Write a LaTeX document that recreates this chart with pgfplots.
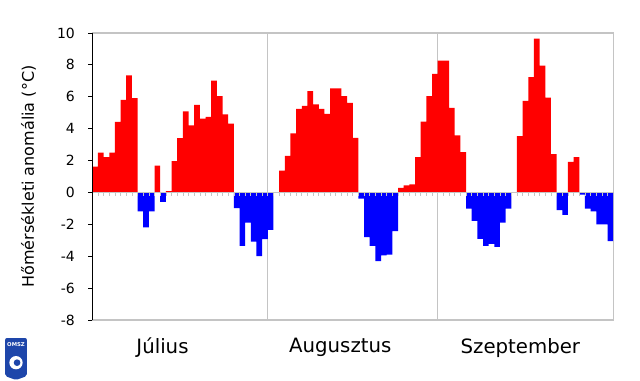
\documentclass[border=0pt]{standalone}
\usepackage{pgfplots}
\pgfplotsset{compat=1.18}
\usepackage{pgfplotstable}
\usepackage{fontspec}
\setmainfont{DejaVu Sans}
\definecolor{barred}{RGB}{255,0,0}
\definecolor{barblue}{RGB}{0,0,255}
\definecolor{framegray}{RGB}{196,196,196}
\definecolor{logoblue}{RGB}{30,70,170}

\pgfplotstableread{
d v
0.5 1.62
1.5 2.50
2.5 2.21
3.5 2.50
4.5 4.42
5.5 5.81
6.5 7.35
7.5 5.92
8.5 -1.18
9.5 -2.19
10.5 -1.18
11.5 1.68
12.5 -0.59
13.5 0.08
14.5 1.96
15.5 3.41
16.5 5.09
17.5 4.21
18.5 5.49
19.5 4.63
20.5 4.74
21.5 7.01
22.5 6.04
23.5 4.90
24.5 4.32
25.5 -0.99
26.5 -3.35
27.5 -1.89
28.5 -3.09
29.5 -4.00
30.5 -2.93
31.5 -2.34
32.5 0.00
33.5 1.37
34.5 2.29
35.5 3.70
36.5 5.24
37.5 5.43
38.5 6.36
39.5 5.52
40.5 5.24
41.5 4.93
42.5 6.53
43.5 6.53
44.5 6.04
45.5 5.62
46.5 3.43
47.5 -0.38
48.5 -2.80
49.5 -3.35
50.5 -4.30
51.5 -3.95
52.5 -3.90
53.5 -2.42
54.5 0.29
55.5 0.44
56.5 0.50
57.5 2.21
58.5 4.44
59.5 6.04
60.5 7.43
61.5 8.27
62.5 8.27
63.5 5.31
64.5 3.58
65.5 2.53
66.5 -1.01
67.5 -1.79
68.5 -2.91
69.5 -3.35
70.5 -3.22
71.5 -3.41
72.5 -1.89
73.5 -1.01
74.5 0.00
75.5 3.54
76.5 5.75
77.5 7.24
78.5 9.64
79.5 7.96
80.5 5.94
81.5 2.40
82.5 -1.11
83.5 -1.41
84.5 1.92
85.5 2.21
86.5 -0.13
87.5 -1.01
88.5 -1.18
89.5 -2.00
90.5 -2.00
91.5 -3.05
}\anom

\begin{document}
\begin{tikzpicture}
\useasboundingbox (0pt,0pt) rectangle (480pt,285pt);
\begin{axis}[
  at={(69.2pt,45pt)}, anchor=south west,
  scale only axis, width=390.75pt, height=215.25pt,
  xmin=0, xmax=92, ymin=-8, ymax=10,
  ytick={-8,-6,-4,-2,0,2,4,6,8,10},
  /pgf/number format/assume math mode=true,
  yticklabel style={font=\fontsize{10.5}{12}\selectfont, xshift=-6.5pt},
  xtick={12.4,43.8,75.6},
  xticklabels={Július,Augusztus,Szeptember},
  xticklabel style={font=\fontsize{14.8}{17}\selectfont, yshift=-7pt},
  xtick style={draw=none},
  ytick pos=left, tick align=outside, major tick length=3pt,
  ytick style={black, line width=0.6pt},
  axis line style={framegray, line width=0.8pt},
  extra x ticks={31,61}, extra x tick labels={},
  extra x tick style={grid=major, major grid style={framegray, line width=0.8pt}, major tick length=0pt},
  ylabel={Hőmérsékleti anomália (°C)},
  ylabel style={font=\fontsize{12}{14}\selectfont, yshift=9pt},
  clip mode=individual,
]
\addplot[ybar, bar width=1, bar shift=0pt, fill=barred, draw=none, restrict y to domain=0:20] table[x=d,y=v]{\anom};
\addplot[ybar, bar width=1, bar shift=0pt, fill=barblue, draw=none, restrict y to domain=-20:0] table[x=d,y=v]{\anom};
\draw[framegray, line width=0.5pt] (axis cs:0,0) -- (axis cs:92,0);
\pgfplotsinvokeforeach{1,...,91}{\draw[framegray, line width=0.5pt] (axis cs:#1,0) -- ++(0pt,-2.6pt);}
\draw[black, line width=0.8pt] (rel axis cs:0,0) -- (rel axis cs:0,1);
\end{axis}
\fill[logoblue, rounded corners=1.5pt] (3.8pt,31.5pt) -- (3.8pt,3pt) -- (12pt,0pt) -- (20.2pt,3pt) -- (20.2pt,31.5pt) -- cycle;
\node[white, font=\fontsize{4}{5}\bfseries\selectfont, inner sep=0pt] at (12pt,26.5pt) {OMSZ};
\fill[white] (12pt,13pt) circle (5pt);
\fill[logoblue] (12.8pt,13pt) circle (2.5pt);
\end{tikzpicture}
\end{document}
